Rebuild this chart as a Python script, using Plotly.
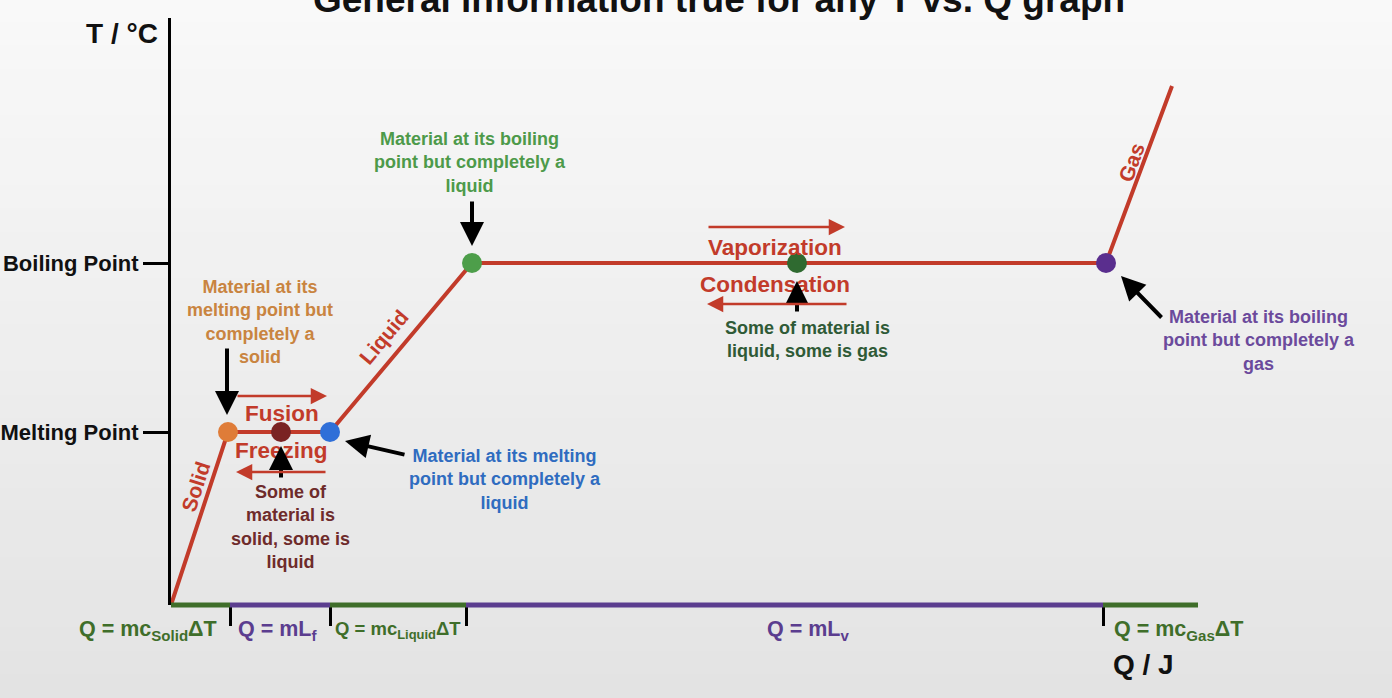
import plotly.graph_objects as go

# ---------------- data ----------------
# heating curve vertices: Q (arbitrary heat units) and T (arbitrary temperature units)
curve_Q = [0, 5.7, 15.9, 30.1, 93.5, 100.1]
curve_T = [0, 17.3, 17.3, 34.2, 34.2, 51.9]

melting_T = 17.3
boiling_T = 34.2
y_tick_vals = [melting_T, boiling_T]
y_tick_text = ["Melting Point", "Boiling Point"]

# state-point dots
dot_Q = [5.7, 11.0, 15.9, 30.1, 62.6, 93.5]
dot_T = [17.3, 17.3, 17.3, 34.2, 34.2, 34.2]
dot_colors = ["#df7c38", "#7a2323", "#2f6fd8", "#4d9e4a", "#2f6a30", "#5a2e8e"]

# Q-axis regions (boundaries) and their formulas
region_bounds = [0, 5.9, 15.9, 29.5, 93.2, 102.7]
region_colors = ["#3f6e2a", "#5b3d8f", "#3f6e2a", "#5b3d8f", "#3f6e2a"]
region_labels = ["Q = mc<sub>Solid</sub>ΔT", "Q = mL<sub>f</sub>", "Q = mc<sub>Liquid</sub>ΔT",
                 "Q = mL<sub>v</sub>", "Q = mc<sub>Gas</sub>ΔT"]
region_label_Q = [-2.3, 10.6, 22.7, 63.7, 94.1]
region_label_anchor = ["center", "center", "center", "center", "left"]
region_label_size = [21.5, 21.5, 18.5, 21.5, 21.5]

X_RANGE = [0, 102.7]
Y_RANGE = [0, 58.7]

RED = "#c23b2a"
FONT = "Liberation Sans, Arial, Helvetica, sans-serif"


def px(q):  # data Q -> paper x
    return (q - X_RANGE[0]) / (X_RANGE[1] - X_RANGE[0])


def py(t):  # data T -> paper y
    return (t - Y_RANGE[0]) / (Y_RANGE[1] - Y_RANGE[0])


fig = go.Figure()

# heating curve
fig.add_trace(go.Scatter(x=curve_Q, y=curve_T, mode="lines",
                         line=dict(color=RED, width=4), hoverinfo="skip", showlegend=False))
# dots
fig.add_trace(go.Scatter(x=dot_Q, y=dot_T, mode="markers",
                         marker=dict(size=20, color=dot_colors, line=dict(width=0)),
                         cliponaxis=False, hoverinfo="skip", showlegend=False))

shapes = []
# background gradient (paper coords covering whole figure)
W, H = 1392, 698
ML, MR, MT, MB = 171, 194, 18, 93
pw, ph = W - ML - MR, H - MT - MB
x0p, x1p = -ML / pw - 0.02, 1 + MR / pw + 0.02
n = 30
for i in range(n):
    ya = 1 + MT / ph - (i / n) * (H / ph)
    yb = 1 + MT / ph - ((i + 1) / n) * (H / ph)
    t = (i + 0.5) / n
    c = int(round(249 - (249 - 227) * t))
    shapes.append(dict(type="rect", xref="paper", yref="paper", x0=x0p, x1=x1p, y0=yb - 0.002, y1=ya + 0.002,
                       fillcolor=f"rgb({c},{c},{c})", line=dict(width=0), layer="below"))

# coloured Q axis segments
for i in range(len(region_colors)):
    shapes.append(dict(type="line", xref="x", yref="paper",
                       x0=region_bounds[i], x1=region_bounds[i + 1], y0=0, y1=0,
                       line=dict(color=region_colors[i], width=5), layer="above"))

annotations = []


def label(text, q, t, size, color, xanchor="center", angle=0):
    annotations.append(dict(x=px(q), y=py(t), xref="paper", yref="paper", text=f"<b>{text}</b>",
                            showarrow=False, xanchor=xanchor, yanchor="middle", align="center",
                            textangle=angle, font=dict(family=FONT, size=size, color=color)))


# region formula labels
for lab, q, anc, col, sz in zip(region_labels, region_label_Q, region_label_anchor, region_colors,
                                region_label_size):
    label(lab, q, -2.5, sz, col, xanchor=anc)

# title (mostly cut off at top)
annotations.append(dict(x=(719 - ML) / pw, y=1 + 18 / ph, xref="paper", yref="paper",
                        text="<b>General information true for any T vs. Q graph</b>", showarrow=False,
                        xanchor="center", yanchor="middle",
                        font=dict(family=FONT, size=37, color="#111111")))

# axis titles
label("T / °C", -1.1, 57.2, 28, "#111111", xanchor="right")
label("Q / J", 97.2, -5.9, 28, "#111111")

# rotated phase labels
for txt, q, tv, ang in [("Solid", 2.4, 11.8, -72), ("Liquid", 21.2, 26.8, -50), ("Gas", 96.0, 44.3, -70)]:
    label(txt, q, tv, 21, RED, angle=ang)

# process labels
for txt, q, tv in [("Fusion", 11.1, 19.2), ("Freezing", 11.0, 15.5),
                   ("Vaporization", 60.4, 35.8), ("Condensation", 60.4, 32.1)]:
    label(txt, q, tv, 22.5, RED)

# descriptive notes
notes = [
    ("Material at its<br>melting point but<br>completely a<br>solid", 8.9, 28.3, "#c98440"),
    ("Some of<br>material is<br>solid, some is<br>liquid", 11.9, 7.8, "#6e2b2b"),
    ("Material at its melting<br>point but completely a<br>liquid", 33.4, 12.6, "#2f6cc0"),
    ("Material at its boiling<br>point but completely a<br>liquid", 29.9, 44.3, "#4d9a4a"),
    ("Some of material is<br>liquid, some is gas", 63.6, 26.6, "#2f5a36"),
    ("Material at its boiling<br>point but completely a<br>gas", 108.8, 26.5, "#6b4a9c"),
]
for txt, q, tv, col in notes:
    label(txt, q, tv, 18, col)

# black pointer arrows (head x,y ; tail ax,ay)
for hx, hy, tx, ty in [(5.6, 19.0, 5.6, 25.8), (11.0, 15.9, 11.0, 12.6), (17.4, 16.4, 23.5, 15.0),
                       (30.1, 35.9, 30.1, 40.5), (62.6, 32.4, 62.6, 29.2), (95.0, 32.9, 99.2, 28.6)]:
    annotations.append(dict(x=hx, y=hy, ax=tx, ay=ty, xref="x", yref="y", axref="x", ayref="y",
                            text="", showarrow=True, arrowhead=2, arrowsize=1.2, arrowwidth=4,
                            arrowcolor="#000000"))

# red direction arrows
for hx, hy, tx, ty in [(15.6, 20.9, 6.5, 20.9), (6.5, 13.3, 15.6, 13.3),
                       (67.4, 37.8, 53.6, 37.8), (53.6, 30.1, 67.7, 30.1)]:
    annotations.append(dict(x=hx, y=hy, ax=tx, ay=ty, xref="x", yref="y", axref="x", ayref="y",
                            text="", showarrow=True, arrowhead=2, arrowsize=1.3, arrowwidth=2.5,
                            arrowcolor=RED))

fig.update_layout(
    width=W, height=H, autosize=False,
    margin=dict(l=ML, r=MR, t=MT, b=MB, pad=0, autoexpand=False),
    paper_bgcolor="#eeeeee", plot_bgcolor="rgba(0,0,0,0)",
    shapes=shapes, annotations=annotations, showlegend=False,
    xaxis=dict(range=X_RANGE, showgrid=False, zeroline=False, showline=False, automargin=False,
               tickmode="array", tickvals=region_bounds[1:5], ticks="outside", ticklen=20,
               tickwidth=3, tickcolor="#000000", showticklabels=False, fixedrange=True),
    yaxis=dict(range=Y_RANGE, showgrid=False, zeroline=False, showline=True, linewidth=3,
               automargin=False,
               linecolor="#000000", tickmode="array", tickvals=y_tick_vals, ticktext=y_tick_text,
               ticks="outside", ticklen=25, tickwidth=3, tickcolor="#000000",
               tickfont=dict(family=FONT, size=22, color="#111111", weight="bold"), fixedrange=True),
)

fig.write_html("out.html", config={"displayModeBar": False},
               post_script="document.body.style.margin='0';document.body.style.overflow='hidden';"
                           "document.body.style.background='#eeeeee';")
